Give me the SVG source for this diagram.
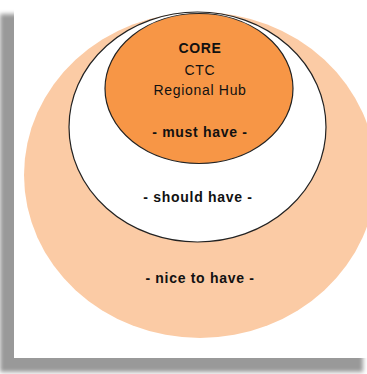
<svg xmlns="http://www.w3.org/2000/svg" width="367" height="374" viewBox="0 0 367 374">
<defs>
<filter id="blur" x="-10%" y="-10%" width="120%" height="120%"><feGaussianBlur stdDeviation="2"/></filter>
<style>
text{font-family:"Liberation Sans",Arial,sans-serif;font-size:14px;fill:#111;text-anchor:middle;letter-spacing:0.7px}
.b{font-weight:bold}
.ring{stroke:#222;stroke-width:1.2}
</style>
</defs>
<rect x="0" y="14" width="363" height="358" fill="#999" filter="url(#blur)"/>
<rect x="14" y="0" width="360" height="358" fill="#fff"/>
<g id="nice">
<ellipse cx="200" cy="175" rx="176" ry="163" fill="#FBCBA5"/>
<text class="b" x="200" y="283">- nice to have -</text>
</g>
<g id="should">
<ellipse class="ring" cx="197.5" cy="127" rx="128.5" ry="115" fill="#fff"/>
<text class="b" x="198" y="202">- should have -</text>
</g>
<g id="must">
<ellipse class="ring" cx="199" cy="88.5" rx="94" ry="75" fill="#F79646"/>
<text class="b" x="200" y="53">CORE</text>
<text x="200" y="75">CTC</text>
<text x="200" y="95">Regional Hub</text>
<text class="b" x="200" y="137">- must have -</text>
</g>
<g id="connectors"/>
</svg>
